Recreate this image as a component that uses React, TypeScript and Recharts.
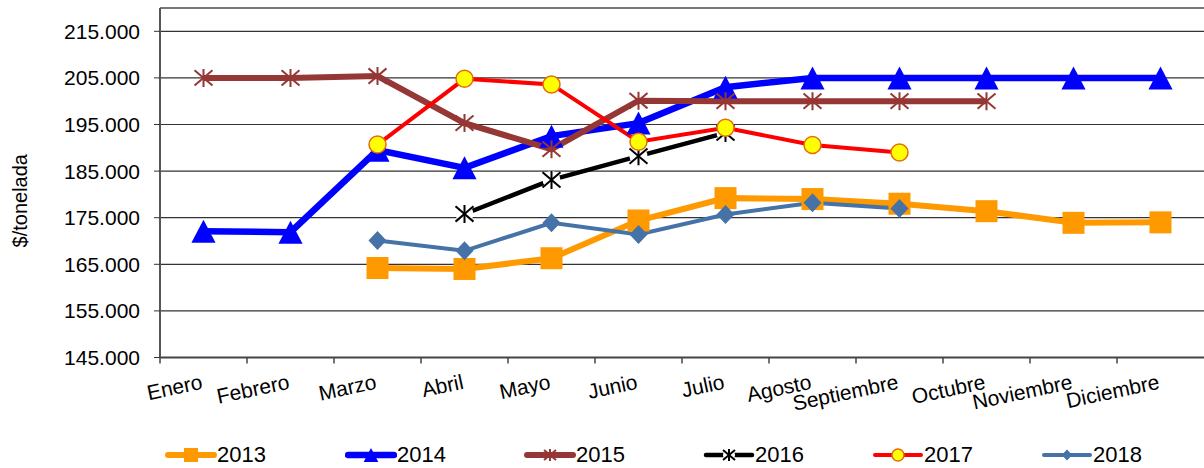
import { LineChart, Line, XAxis, YAxis, CartesianGrid, Legend, ReferenceLine } from 'recharts';

const months = ['Enero', 'Febrero', 'Marzo', 'Abril', 'Mayo', 'Junio', 'Julio', 'Agosto', 'Septiembre', 'Octubre', 'Noviembre', 'Diciembre'];
const y2013 = [null, null, 164200, 164000, 166300, 174400, 179200, 179000, 178000, 176400, 173900, 174000];
const y2014 = [172100, 171900, 189500, 185700, 192500, 195300, 203000, 205000, 205000, 205000, 205000, 205000];
const y2015 = [205000, 205000, 205400, 195300, 189700, 200100, 200000, 200000, 200000, 200000, null, null];
const y2016 = [null, null, null, 175800, 183100, 188200, 193200, null, null, null, null, null];
const y2017 = [null, null, 190700, 204800, 203600, 191300, 194300, 190600, 189000, null, null, null];
const y2018 = [null, null, 170100, 167900, 173900, 171400, 175700, 178200, 177000, null, null, null];
const yTicks = [145000, 155000, 165000, 175000, 185000, 195000, 205000, 215000];

const data = months.map((m, i) => ({
    mes: m,
    '2013': y2013[i],
    '2014': y2014[i],
    '2015': y2015[i],
    '2016': y2016[i],
    '2017': y2017[i],
    '2018': y2018[i],
}));

type Shape = 'square' | 'triangle' | 'star' | 'circle' | 'diamond';

const series: { key: string; color: string; width: number; shape: Shape; markerColor: string }[] = [
    { key: '2013', color: '#FF9900', width: 6, shape: 'square', markerColor: '#FF9900' },
    { key: '2014', color: '#0000FF', width: 6.5, shape: 'triangle', markerColor: '#0000FF' },
    { key: '2015', color: '#953735', width: 6, shape: 'star', markerColor: '#953735' },
    { key: '2016', color: '#000000', width: 4.5, shape: 'star', markerColor: '#000000' },
    { key: '2017', color: '#FF0000', width: 4, shape: 'circle', markerColor: '#FFFF00' },
    { key: '2018', color: '#4572A7', width: 4, shape: 'diamond', markerColor: '#4572A7' },
];

// legend item widths, spacing as in the original
const legendWidths = [180, 179, 179, 169, 169, 120];

const font = '"Liberation Sans", Arial, sans-serif';

function marker(shape: Shape, color: string, cx: number, cy: number, s: number, knock: boolean, key?: string) {
    if (shape === 'square') {
        return <rect key={key} x={cx - s} y={cy - s} width={s * 2} height={s * 2} fill={color} />;
    }
    if (shape === 'triangle') {
        return <polygon key={key} points={`${cx},${cy - s} ${cx - s * 1.05},${cy + s} ${cx + s * 1.05},${cy + s}`} fill={color} />;
    }
    if (shape === 'circle') {
        return <circle key={key} cx={cx} cy={cy} r={s} fill={color} stroke="#E46C0A" strokeWidth={1.5} />;
    }
    if (shape === 'diamond') {
        return <polygon key={key} points={`${cx},${cy - s} ${cx + s * 0.95},${cy} ${cx},${cy + s} ${cx - s * 0.95},${cy}`} fill={color} />;
    }
    // star: X plus vertical stroke
    return (
        <g key={key}>
            {knock && <circle cx={cx} cy={cy} r={s} fill="#fff" />}
            <line x1={cx} y1={cy - s} x2={cx} y2={cy + s} stroke={color} strokeWidth={2} />
            <line x1={cx - s} y1={cy - s * 0.85} x2={cx + s} y2={cy + s * 0.85} stroke={color} strokeWidth={2} />
            <line x1={cx - s} y1={cy + s * 0.85} x2={cx + s} y2={cy - s * 0.85} stroke={color} strokeWidth={2} />
        </g>
    );
}

const dotSize: Record<Shape, number> = { square: 11, triangle: 11.5, star: 9, circle: 8.5, diamond: 9.5 };
const legendSize: Record<Shape, number> = { square: 7, triangle: 7, star: 6, circle: 6, diamond: 5.5 };

function MonthTick(props: any) {
    const { x, y, payload } = props;
    const half = payload && typeof payload.offset === 'number' && payload.offset > 0 ? payload.offset : 43.5;
    const by = y + 25;
    return (
        <g>
            <line x1={x - half} y1={y - 6} x2={x - half} y2={y} stroke="#444" strokeWidth={1.5} />
            <text x={x} y={by} textAnchor="end" transform={`rotate(-12, ${x}, ${by})`} fontSize={21} fontFamily={font} fill="#000">
                {payload.value}
            </text>
        </g>
    );
}

function YLabel(props: any) {
    const vb = props.viewBox || { x: 0, y: 8, width: 160, height: 350 };
    const cx = vb.x + 20;
    const cy = vb.y + vb.height / 2 + 18;
    return (
        <text x={cx} y={cy} transform={`rotate(-90, ${cx}, ${cy})`} textAnchor="middle" dominantBaseline="central" fontSize={20} fontFamily={font} fill="#000">
            $/tonelada
        </text>
    );
}

function LegendContent() {
    return (
        <div style={{ display: 'flex', fontFamily: font, fontSize: 22, color: '#000' }}>
            {series.map((s, i) => (
                <div key={s.key} style={{ width: legendWidths[i], display: 'flex', alignItems: 'center' }}>
                    <svg width={52} height={24}>
                        <line x1={3} y1={12} x2={49} y2={12} stroke={s.color} strokeWidth={s.width} strokeLinecap="round" />
                        {marker(s.shape, s.markerColor, 26, 12, legendSize[s.shape], s.key === '2016')}
                    </svg>
                    <span style={{ lineHeight: '24px' }}>{s.key}</span>
                </div>
            ))}
        </div>
    );
}

function App() {
    return (
        <div style={{ position: 'absolute', left: 0, top: 0, background: '#fff' }}>
            <LineChart width={1204} height={468} data={data} margin={{ top: 8, right: 0, left: 0, bottom: 0 }}>
                <CartesianGrid vertical={false} stroke="#333" strokeWidth={1.2} />
                <ReferenceLine y={220000} stroke="#777" strokeWidth={2} />
                <XAxis
                    dataKey="mes"
                    scale="band"
                    height={110.5}
                    tickSize={6}
                    tickMargin={0}
                    tickLine={false}
                    axisLine={{ stroke: '#444', strokeWidth: 2 }}
                    tick={<MonthTick />}
                    interval={0}
                />
                <YAxis
                    width={160}
                    domain={[145000, 220000]}
                    ticks={yTicks}
                    allowDataOverflow
                    tickSize={6}
                    tickMargin={14}
                    axisLine={{ stroke: '#555', strokeWidth: 2 }}
                    tickLine={{ stroke: '#333' }}
                    tick={{ fontSize: 21, fontFamily: font, fill: '#000' }}
                    tickFormatter={(v: number) => v.toLocaleString('de-DE')}
                    label={<YLabel />}
                />
                <Legend
                    layout="horizontal"
                    verticalAlign="middle"
                    align="center"
                    content={<LegendContent />}
                    wrapperStyle={{ position: 'absolute', left: 165, top: 443, width: 1040, height: 24 }}
                />
                {series.map((s) => (
                    <Line
                        key={s.key}
                        type="linear"
                        dataKey={s.key}
                        stroke={s.color}
                        strokeWidth={s.width}
                        isAnimationActive={false}
                        activeDot={false}
                        dot={(p: any) =>
                            p.cx == null || p.cy == null || p.value == null
                                ? <g key={`${s.key}-${p.index}`} />
                                : marker(s.shape, s.markerColor, p.cx, p.cy, dotSize[s.shape], s.key === '2016', `${s.key}-${p.index}`)
                        }
                    />
                ))}
            </LineChart>
        </div>
    );
}

export default App;
